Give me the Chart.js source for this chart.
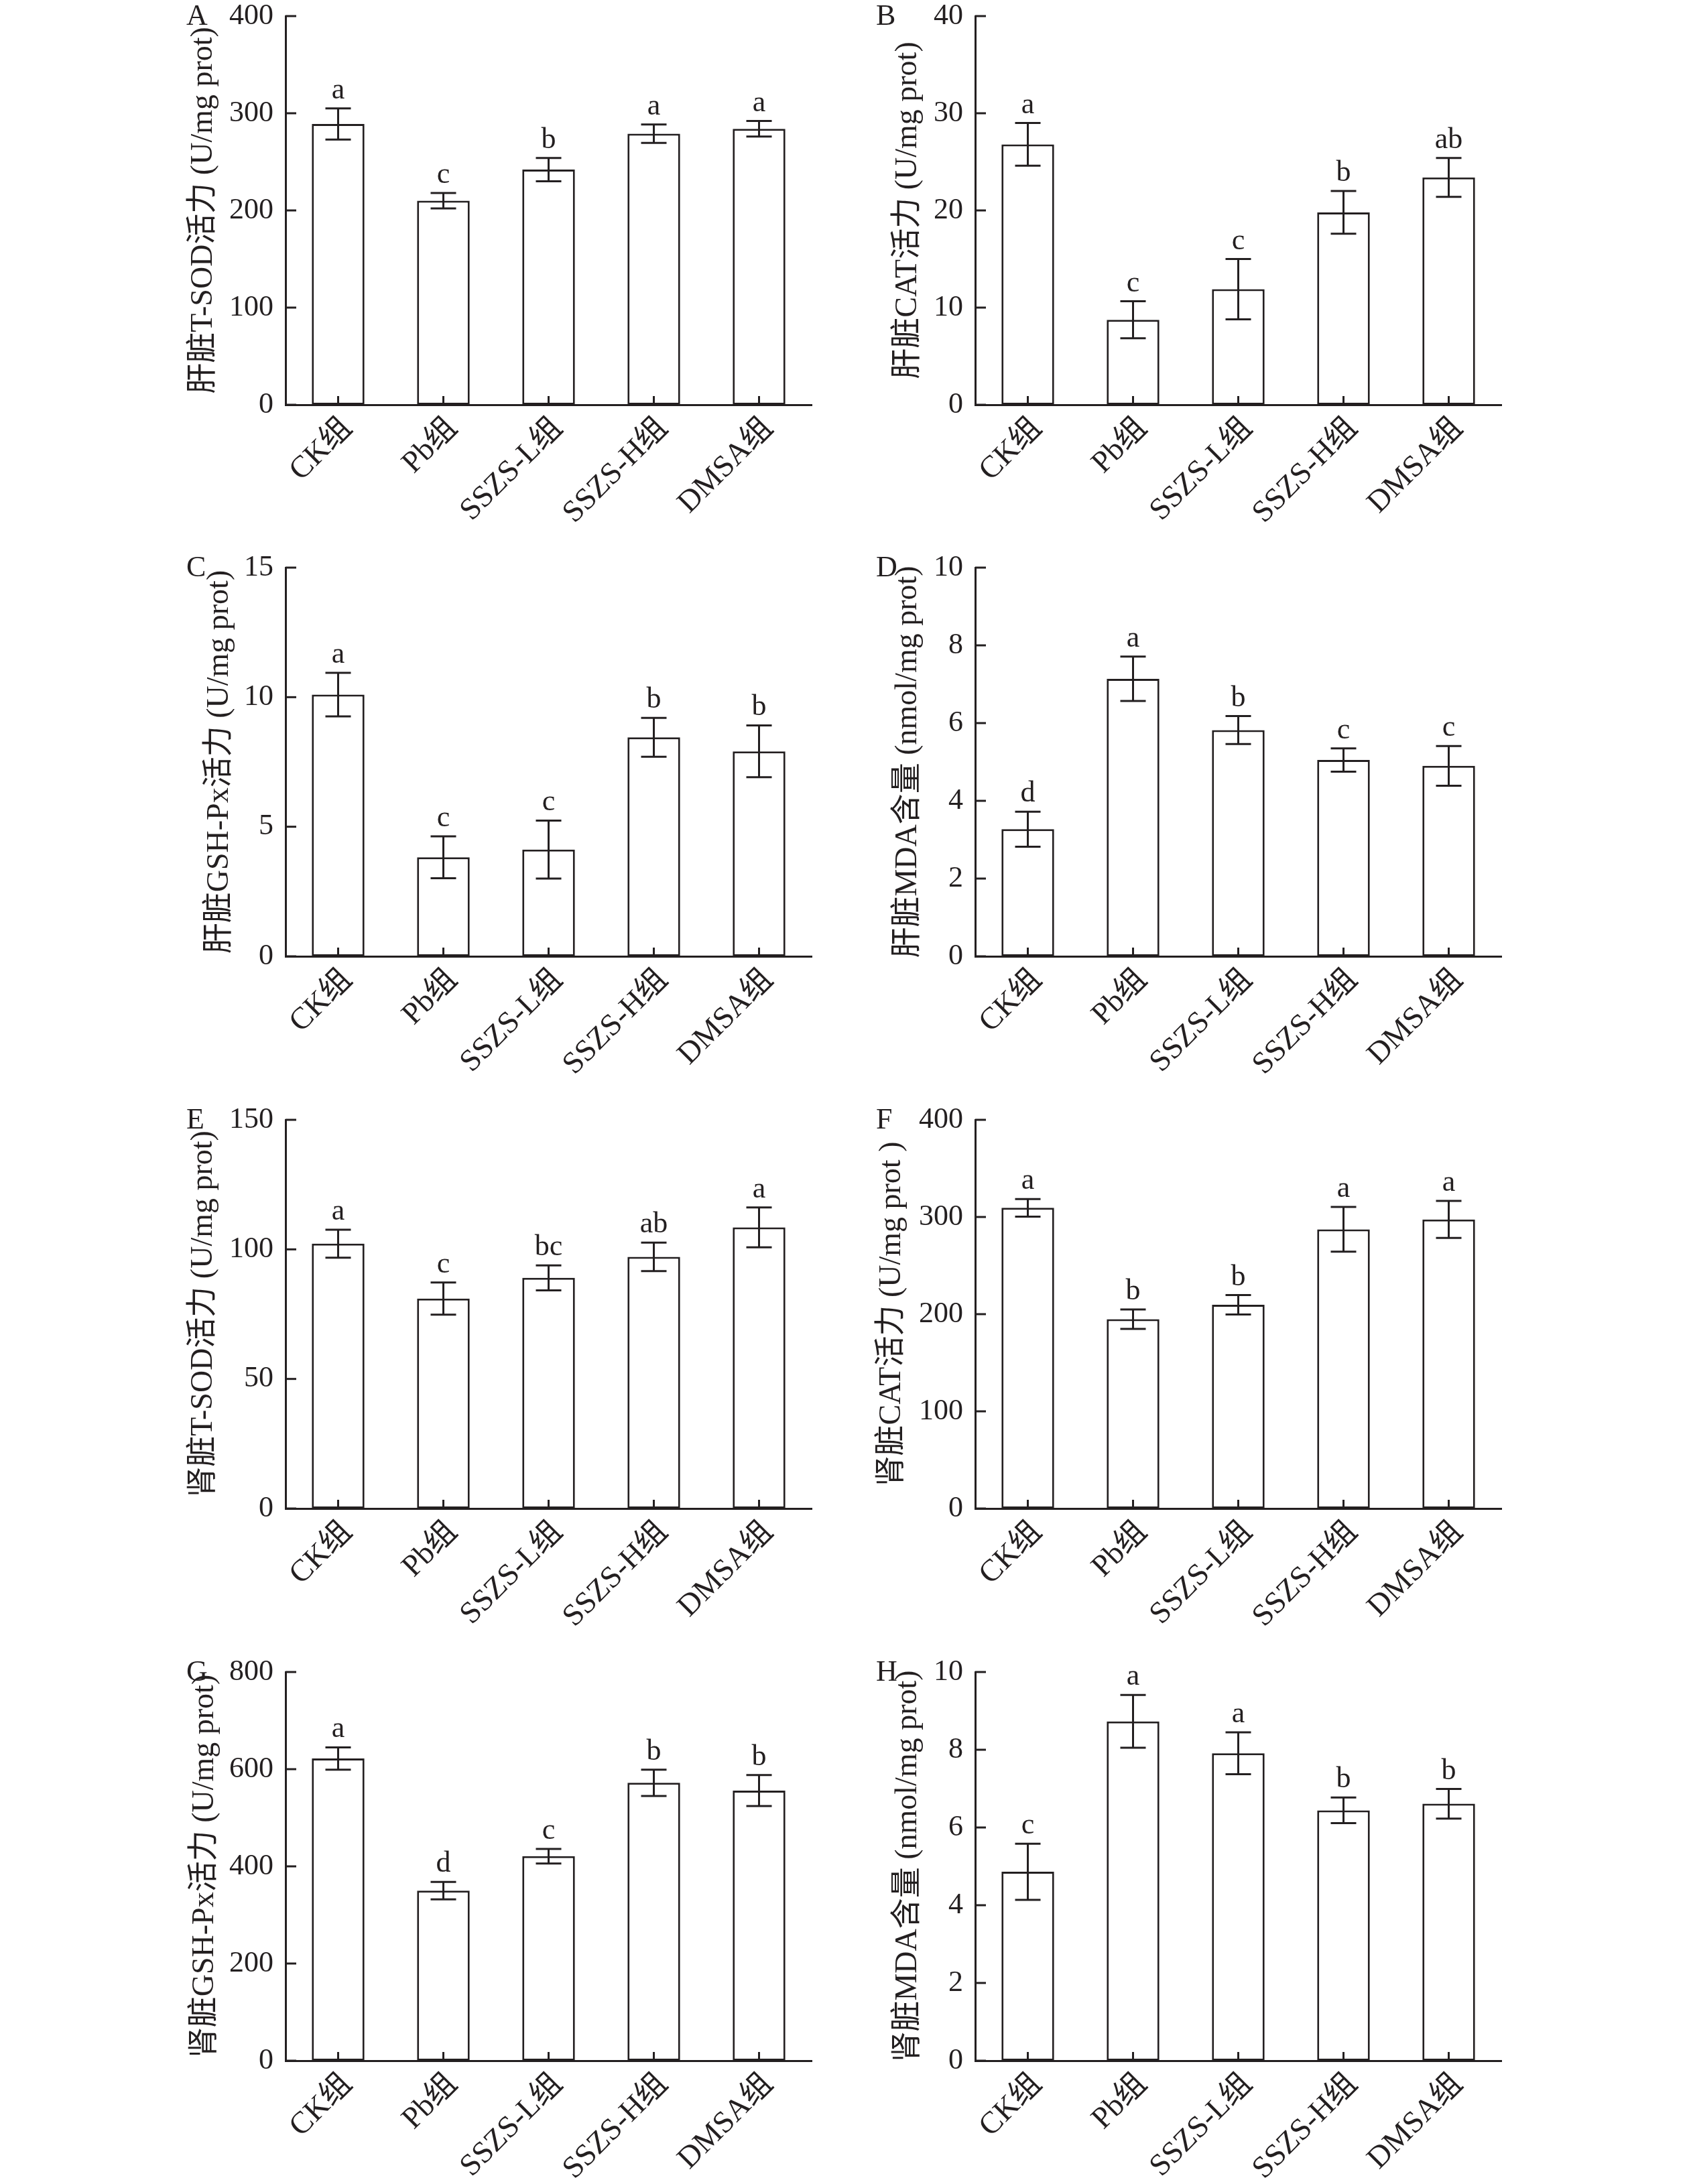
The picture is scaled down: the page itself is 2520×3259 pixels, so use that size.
<!DOCTYPE html>
<html>
<head>
<meta charset="utf-8">
<script src="https://cdn.jsdelivr.net/npm/chart.js@4.4.1/dist/chart.umd.min.js"></script>
<style>
  body { margin: 0; background: #fff; width: 2520px; height: 3259px; position: relative; overflow: hidden; }
  .panel { position: absolute; width: 1050px; height: 788px; }
</style>
</head>
<body>
<div class="panel" style="left:200px;top:0px"><canvas id="chartA" width="1050" height="788"></canvas></div>
<div class="panel" style="left:1229px;top:0px"><canvas id="chartB" width="1050" height="788"></canvas></div>
<div class="panel" style="left:200px;top:823px"><canvas id="chartC" width="1050" height="788"></canvas></div>
<div class="panel" style="left:1229px;top:823px"><canvas id="chartD" width="1050" height="788"></canvas></div>
<div class="panel" style="left:200px;top:1647px"><canvas id="chartE" width="1050" height="788"></canvas></div>
<div class="panel" style="left:1229px;top:1647px"><canvas id="chartF" width="1050" height="788"></canvas></div>
<div class="panel" style="left:200px;top:2471px"><canvas id="chartG" width="1050" height="788"></canvas></div>
<div class="panel" style="left:1229px;top:2471px"><canvas id="chartH" width="1050" height="788"></canvas></div>
<script>
// groups on the x axis
const groups = ['CK组', 'Pb组', 'SSZS-L组', 'SSZS-H组', 'DMSA组'];

// A: liver T-SOD
const liverSodMean = [289, 210, 242, 279, 284];
const liverSodSd = [16, 8, 12, 9.5, 8];
const liverSodSig = ['a', 'c', 'b', 'a', 'a'];

// B: liver CAT
const liverCatMean = [26.8, 8.75, 11.9, 19.8, 23.4];
const liverCatSd = [2.2, 1.9, 3.1, 2.2, 2.0];
const liverCatSig = ['a', 'c', 'c', 'b', 'ab'];

// C: liver GSH-Px
const liverGshMean = [10.1, 3.82, 4.12, 8.45, 7.91];
const liverGshSd = [0.84, 0.81, 1.12, 0.75, 1.0];
const liverGshSig = ['a', 'c', 'c', 'b', 'b'];

// D: liver MDA
const liverMdaMean = [3.27, 7.14, 5.82, 5.05, 4.9];
const liverMdaSd = [0.45, 0.57, 0.36, 0.3, 0.51];
const liverMdaSig = ['d', 'a', 'b', 'c', 'c'];

// E: kidney T-SOD
const kidneySodMean = [102.2, 81, 89, 97.1, 108.5];
const kidneySodSd = [5.4, 6.2, 4.8, 5.5, 7.7];
const kidneySodSig = ['a', 'c', 'bc', 'ab', 'a'];

// F: kidney CAT
const kidneyCatMean = [309.4, 194.9, 209.6, 287.3, 297.5];
const kidneyCatSd = [9, 10, 10, 23, 19];
const kidneyCatSig = ['a', 'b', 'b', 'a', 'a'];

// G: kidney GSH-Px
const kidneyGshMean = [622, 350, 421, 572, 556];
const kidneyGshSd = [23, 18, 15, 27, 32];
const kidneyGshSig = ['a', 'd', 'c', 'b', 'b'];

// H: kidney MDA
const kidneyMdaMean = [4.86, 8.73, 7.91, 6.44, 6.61];
const kidneyMdaSd = [0.72, 0.68, 0.54, 0.33, 0.38];
const kidneyMdaSig = ['c', 'a', 'a', 'b', 'b'];

const INK = '#231f20';
const FONT = '"Liberation Serif", "Times New Roman", "Noto Sans CJK SC", serif';

// error bars, significance letters, inward ticks and the panel letter
const decor = {
    id: 'decor',
    afterDatasetsDraw(chart, args, opts) {
        const { ctx, chartArea } = chart;
        const x = chart.scales.x;
        const y = chart.scales.y;
        ctx.save();
        ctx.strokeStyle = INK;
        ctx.fillStyle = INK;
        ctx.lineWidth = 3;

        const line = (x1, y1, x2, y2) => {
            ctx.beginPath();
            ctx.moveTo(x1, y1);
            ctx.lineTo(x2, y2);
            ctx.stroke();
        };

        y.ticks.forEach(t => {
            const py = y.getPixelForValue(t.value);
            line(chartArea.left, py, chartArea.left + 16, py);
        });
        x.ticks.forEach((t, i) => {
            const px = x.getPixelForTick(i);
            line(px, chartArea.bottom, px, chartArea.bottom - 13);
        });

        ctx.font = '44px ' + FONT;
        ctx.textAlign = 'center';
        ctx.textBaseline = 'alphabetic';
        opts.mean.forEach((m, i) => {
            const px = x.getPixelForValue(i);
            const hi = y.getPixelForValue(m + opts.sd[i]);
            const lo = y.getPixelForValue(m - opts.sd[i]);
            line(px, hi, px, lo);
            line(px - 19, hi, px + 19, hi);
            line(px - 19, lo, px + 19, lo);
            ctx.fillText(opts.sig[i], px, hi - 15);
        });

        ctx.font = '44px ' + FONT;
        ctx.textAlign = 'left';
        ctx.fillText(opts.panel, chartArea.left - 148, chartArea.top + 13);
        ctx.restore();
    }
};

function makeChart(id, panel, title, max, step, mean, sd, sig, titleX) {
    new Chart(document.getElementById(id), {
        type: 'bar',
        data: {
            labels: groups,
            datasets: [{
                data: mean,
                backgroundColor: '#ffffff',
                borderColor: INK,
                borderWidth: 3,
                borderSkipped: false,
                barPercentage: 0.5,
                categoryPercentage: 1.0
            }]
        },
        options: {
            responsive: false,
            animation: false,
            devicePixelRatio: 1,
            layout: { padding: { top: 24, right: 39, bottom: 0, left: 0 } },
            plugins: {
                legend: { display: false },
                tooltip: { enabled: false },
                decor: { mean: mean, sd: sd, sig: sig, panel: panel }
            },
            scales: {
                x: {
                    grid: { display: false, drawTicks: false },
                    border: { display: true, color: INK, width: 3 },
                    ticks: {
                        color: INK,
                        font: { family: FONT, size: 46, lineHeight: 1 },
                        minRotation: 45,
                        maxRotation: 45,
                        autoSkip: false,
                        padding: 12,
                        labelOffset: 14
                    },
                    afterFit(s) {
                        s.height = 184;
                        s.paddingLeft = 0;
                        s.paddingRight = 0;
                    }
                },
                y: {
                    min: 0,
                    max: max,
                    grid: { display: false, drawTicks: false },
                    border: { display: true, color: INK, width: 3 },
                    ticks: {
                        stepSize: step,
                        color: INK,
                        font: { family: FONT, size: 44, lineHeight: 1 },
                        padding: 18
                    },
                    title: {
                        display: true,
                        text: title,
                        color: INK,
                        font: { family: FONT, size: 46, lineHeight: 1.2 },
                        padding: { top: titleX - 28, bottom: 0 }
                    },
                    afterFit(s) {
                        s.width = 226;
                        s.paddingTop = 0;
                        s.paddingBottom = 0;
                    }
                }
            }
        },
        plugins: [decor]
    });
}

makeChart('chartA', 'A', '肝脏T-SOD活力 (U/mg prot)', 400, 100, liverSodMean, liverSodSd, liverSodSig, 104);
makeChart('chartB', 'B', '肝脏CAT活力 (U/mg prot)', 40, 10, liverCatMean, liverCatSd, liverCatSig, 126);
makeChart('chartC', 'C', '肝脏GSH-Px活力 (U/mg prot)', 15, 5, liverGshMean, liverGshSd, liverGshSig, 128);
makeChart('chartD', 'D', '肝脏MDA含量 (nmol/mg prot)', 10, 2, liverMdaMean, liverMdaSd, liverMdaSig, 126);
makeChart('chartE', 'E', '肾脏T-SOD活力 (U/mg prot)', 150, 50, kidneySodMean, kidneySodSd, kidneySodSig, 104);
makeChart('chartF', 'F', '肾脏CAT活力 (U/mg prot )', 400, 100, kidneyCatMean, kidneyCatSd, kidneyCatSig, 102);
makeChart('chartG', 'G', '肾脏GSH-Px活力 (U/mg prot)', 800, 200, kidneyGshMean, kidneyGshSd, kidneyGshSig, 106);
makeChart('chartH', 'H', '肾脏MDA含量 (nmol/mg prot)', 10, 2, kidneyMdaMean, kidneyMdaSd, kidneyMdaSig, 126);
</script>
</body>
</html>
